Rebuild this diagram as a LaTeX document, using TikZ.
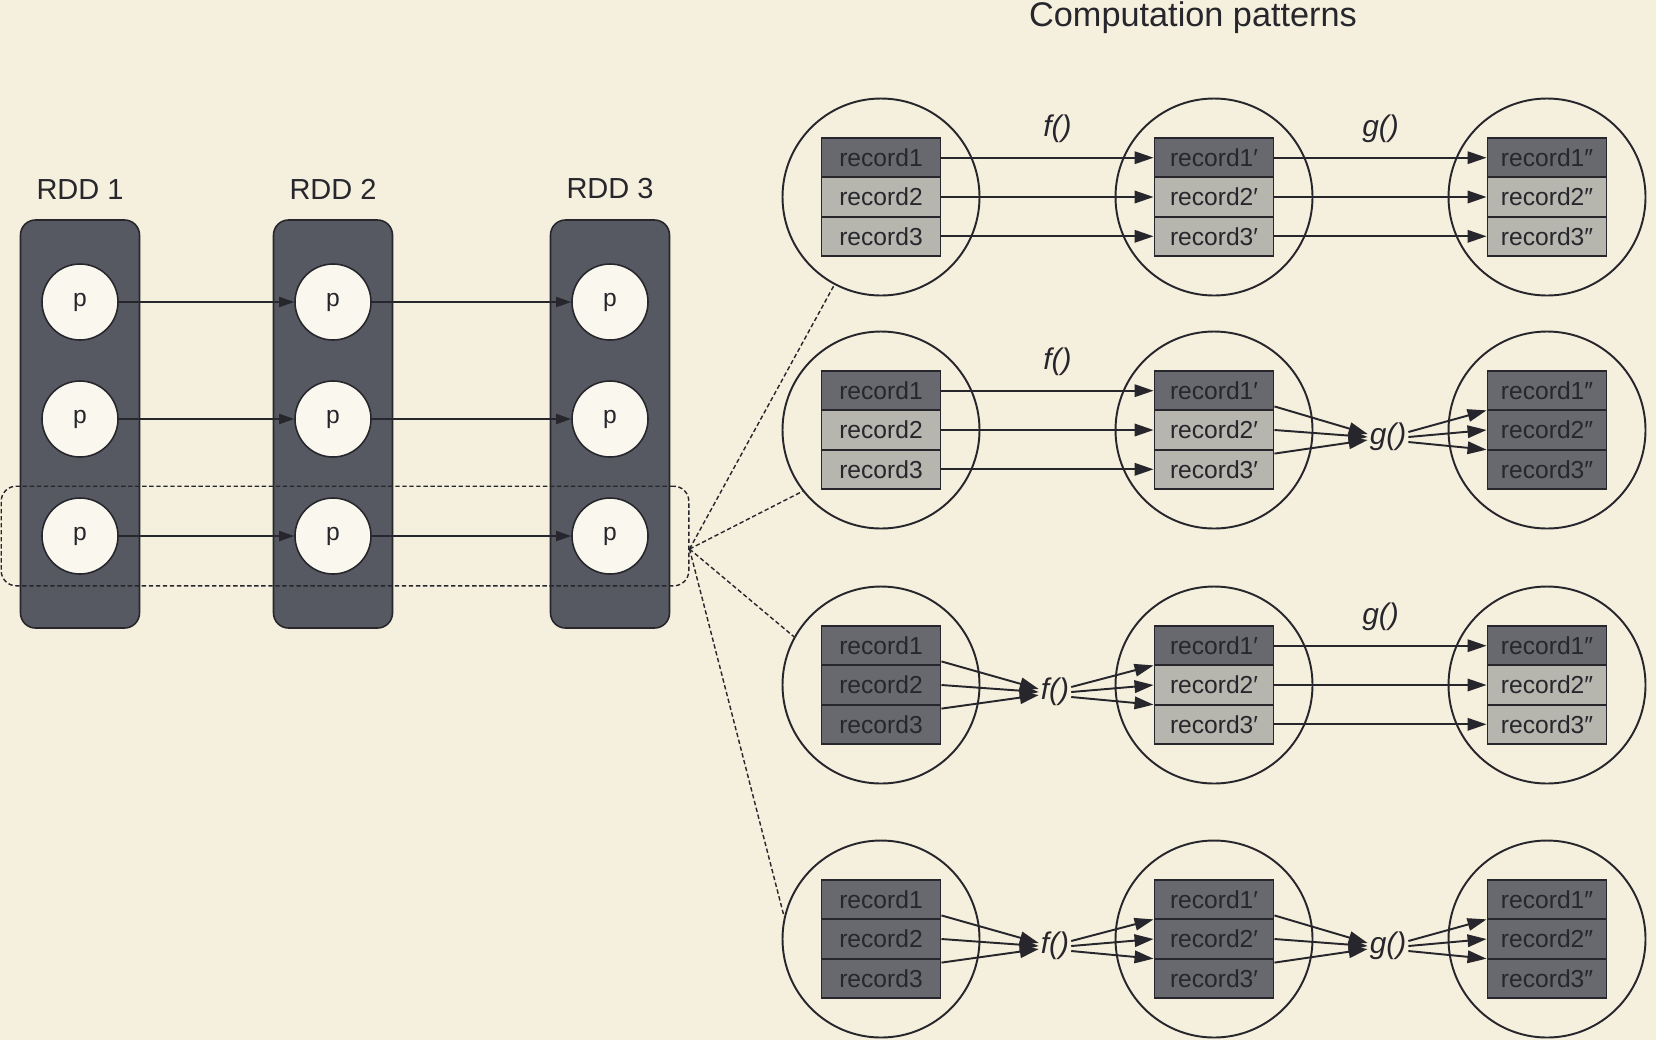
\documentclass[tikz,border=0pt]{standalone}
\usepackage{fontspec}
\setmainfont{Liberation Sans}
\usetikzlibrary{positioning,calc,fit,arrows.meta}
\definecolor{paper}{RGB}{245,239,221}
\definecolor{slate}{RGB}{86,89,97}
\definecolor{recdark}{RGB}{104,105,110}
\definecolor{reclight}{RGB}{182,182,174}
\definecolor{ink}{RGB}{38,38,44}
\begin{document}
\begin{tikzpicture}[node distance=2cm, color=ink,
    head/.style={font=\fontsize{19.5}{22}\selectfont},
    rdd/.style={rectangle, draw=ink, line width=0.9pt, fill=slate, rounded corners=0.3cm, minimum width=2.38cm, minimum height=8.16cm},
    rddlabel/.style={font=\fontsize{16.5}{19}\selectfont},
    part/.style={circle, draw=ink, line width=0.9pt, fill=paper!50!white, minimum size=1.52cm, font=\fontsize{14}{16}\selectfont},
    stage/.style={circle, draw=ink, line width=1.1pt, minimum size=3.94cm},
    dark/.style={rectangle, draw=ink, line width=1.1pt, fill=recdark, minimum width=2.38cm, minimum height=0.786cm, inner sep=0pt, font=\fontsize{14}{16}\selectfont},
    light/.style={dark, fill=reclight},
    fn/.style={font=\fontsize{17}{19}\selectfont\itshape, inner sep=1pt},
    line/.style={draw, line width=1.1pt, -{Triangle[length=0.38cm, width=0.25cm]}},
    pline/.style={draw, line width=1pt, -{Triangle[length=0.3cm, width=0.2cm]}},
    lasso/.style={draw, dash pattern=on 2.5pt off 1.5pt, line width=0.8pt}]

  \fill[paper] (0,0) rectangle (33.12,-20.8);
  \useasboundingbox (0,0) rectangle (33.12,-20.8);

  \node[head] (head) at (23.86,-0.36) {Computation patterns};

  % RDD columns
  \node[rdd] (rdd1) at (1.6,-8.48) {};
  \node[rdd, right of=rdd1, node distance=5.06cm] (rdd2) {};
  \node[rdd, right of=rdd2, node distance=5.54cm] (rdd3) {};
  \node[rddlabel, above=0.28cm of rdd1] (lab1) {RDD 1};
  \node[rddlabel, above=0.28cm of rdd2] (lab2) {RDD 2};
  \node[rddlabel, above=0.28cm of rdd3] (lab3) {RDD 3};

  % partitions
  \node[part] (p12) at (1.6,-8.38) {p};
  \node[part, above of=p12, node distance=2.34cm] (p11) {p};
  \node[part, below of=p12, node distance=2.34cm] (p13) {p};
  \node[part, right of=p12, node distance=5.06cm] (p22) {p};
  \node[part, above of=p22, node distance=2.34cm] (p21) {p};
  \node[part, below of=p22, node distance=2.34cm] (p23) {p};
  \node[part, right of=p22, node distance=5.54cm] (p32) {p};
  \node[part, above of=p32, node distance=2.34cm] (p31) {p};
  \node[part, below of=p32, node distance=2.34cm] (p33) {p};

  \path [pline] (p11) -- (p21);
  \path [pline] (p12) -- (p22);
  \path [pline] (p13) -- (p23);
  \path [pline] (p21) -- (p31);
  \path [pline] (p22) -- (p32);
  \path [pline] (p23) -- (p33);

  \node[lasso, rounded corners=0.3cm, fit=(p13)(p33), inner xsep=0.8cm, inner ysep=0.22cm] (sel) {};

  % computation patterns
  \node[stage] (c11) at (17.62,-3.94) {};
  \node[stage, right of=c11, node distance=6.66cm] (c12) {};
  \node[stage, right of=c12, node distance=6.66cm] (c13) {};
  \node[stage, below of=c11, node distance=4.66cm] (c21) {};
  \node[stage, right of=c21, node distance=6.66cm] (c22) {};
  \node[stage, right of=c22, node distance=6.66cm] (c23) {};
  \node[stage, below of=c21, node distance=5.1cm] (c31) {};
  \node[stage, right of=c31, node distance=6.66cm] (c32) {};
  \node[stage, right of=c32, node distance=6.66cm] (c33) {};
  \node[stage, below of=c31, node distance=5.08cm] (c41) {};
  \node[stage, right of=c41, node distance=6.66cm] (c42) {};
  \node[stage, right of=c42, node distance=6.66cm] (c43) {};

  \draw[lasso] ([yshift=-0.26cm]sel.east) -- (c11.242);
  \draw[lasso] ([yshift=-0.26cm]sel.east) -- (c21.218);
  \draw[lasso] ([yshift=-0.26cm]sel.east) -- (c31.151);
  \draw[lasso] ([yshift=-0.26cm]sel.east) -- (c41.167);

  % row 1
  \node[light] (r112) at (c11) {record2};
  \node[dark, above of=r112, node distance=0.786cm] (r111) {record1};
  \node[light, below of=r112, node distance=0.786cm] (r113) {record3};
  \node[light] (r122) at (c12) {record2′};
  \node[dark, above of=r122, node distance=0.786cm] (r121) {record1′};
  \node[light, below of=r122, node distance=0.786cm] (r123) {record3′};
  \node[light] (r132) at (c13) {record2″};
  \node[dark, above of=r132, node distance=0.786cm] (r131) {record1″};
  \node[light, below of=r132, node distance=0.786cm] (r133) {record3″};

  \path [line] (r111) -- node[fn, above=0.25cm, xshift=0.2cm] {f()} (r121);
  \path [line] (r112) -- (r122);
  \path [line] (r113) -- (r123);
  \path [line] (r121) -- node[fn, above=0.25cm] {g()} (r131);
  \path [line] (r122) -- (r132);
  \path [line] (r123) -- (r133);

  % row 2
  \node[light] (r212) at (c21) {record2};
  \node[dark, above of=r212, node distance=0.786cm] (r211) {record1};
  \node[light, below of=r212, node distance=0.786cm] (r213) {record3};
  \node[light] (r222) at (c22) {record2′};
  \node[dark, above of=r222, node distance=0.786cm] (r221) {record1′};
  \node[light, below of=r222, node distance=0.786cm] (r223) {record3′};
  \node[dark] (r232) at (c23) {record2″};
  \node[dark, above of=r232, node distance=0.786cm] (r231) {record1″};
  \node[dark, below of=r232, node distance=0.786cm] (r233) {record3″};
  \node[fn] (g2) at ($(c22)!0.5!(c23)+(0.15,-0.14)$) {g()};

  \path [line] (r211) -- node[fn, above=0.25cm, xshift=0.2cm] {f()} (r221);
  \path [line] (r212) -- (r222);
  \path [line] (r213) -- (r223);
  \path [line] ($(r221.east)!0.4!(r222.east)$) -- ([yshift=0.06cm]g2.west);
  \path [line] (r222.east) -- (g2.west);
  \path [line] ($(r223.east)!0.4!(r222.east)$) -- ([yshift=-0.06cm]g2.west);
  \path [line] ([yshift=0.1cm]g2.east) -- ($(r231.west)!0.5!(r232.west)$);
  \path [line] (g2.east) -- (r232.west);
  \path [line] ([yshift=-0.1cm]g2.east) -- ($(r233.west)!0.5!(r232.west)$);

  % row 3
  \node[dark] (r312) at (c31) {record2};
  \node[dark, above of=r312, node distance=0.786cm] (r311) {record1};
  \node[dark, below of=r312, node distance=0.786cm] (r313) {record3};
  \node[light] (r322) at (c32) {record2′};
  \node[dark, above of=r322, node distance=0.786cm] (r321) {record1′};
  \node[light, below of=r322, node distance=0.786cm] (r323) {record3′};
  \node[light] (r332) at (c33) {record2″};
  \node[dark, above of=r332, node distance=0.786cm] (r331) {record1″};
  \node[light, below of=r332, node distance=0.786cm] (r333) {record3″};
  \node[fn] (f3) at ($(c31)!0.5!(c32)+(0.15,-0.14)$) {f()};

  \path [line] ($(r311.east)!0.4!(r312.east)$) -- ([yshift=0.06cm]f3.west);
  \path [line] (r312.east) -- (f3.west);
  \path [line] ($(r313.east)!0.4!(r312.east)$) -- ([yshift=-0.06cm]f3.west);
  \path [line] ([yshift=0.1cm]f3.east) -- ($(r321.west)!0.5!(r322.west)$);
  \path [line] (f3.east) -- (r322.west);
  \path [line] ([yshift=-0.1cm]f3.east) -- ($(r323.west)!0.5!(r322.west)$);
  \path [line] (r321) -- node[fn, above=0.25cm] {g()} (r331);
  \path [line] (r322) -- (r332);
  \path [line] (r323) -- (r333);

  % row 4
  \node[dark] (r412) at (c41) {record2};
  \node[dark, above of=r412, node distance=0.786cm] (r411) {record1};
  \node[dark, below of=r412, node distance=0.786cm] (r413) {record3};
  \node[dark] (r422) at (c42) {record2′};
  \node[dark, above of=r422, node distance=0.786cm] (r421) {record1′};
  \node[dark, below of=r422, node distance=0.786cm] (r423) {record3′};
  \node[dark] (r432) at (c43) {record2″};
  \node[dark, above of=r432, node distance=0.786cm] (r431) {record1″};
  \node[dark, below of=r432, node distance=0.786cm] (r433) {record3″};
  \node[fn] (f4) at ($(c41)!0.5!(c42)+(0.15,-0.14)$) {f()};
  \node[fn] (g4) at ($(c42)!0.5!(c43)+(0.15,-0.14)$) {g()};

  \path [line] ($(r411.east)!0.4!(r412.east)$) -- ([yshift=0.06cm]f4.west);
  \path [line] (r412.east) -- (f4.west);
  \path [line] ($(r413.east)!0.4!(r412.east)$) -- ([yshift=-0.06cm]f4.west);
  \path [line] ([yshift=0.1cm]f4.east) -- ($(r421.west)!0.5!(r422.west)$);
  \path [line] (f4.east) -- (r422.west);
  \path [line] ([yshift=-0.1cm]f4.east) -- ($(r423.west)!0.5!(r422.west)$);
  \path [line] ($(r421.east)!0.4!(r422.east)$) -- ([yshift=0.06cm]g4.west);
  \path [line] (r422.east) -- (g4.west);
  \path [line] ($(r423.east)!0.4!(r422.east)$) -- ([yshift=-0.06cm]g4.west);
  \path [line] ([yshift=0.1cm]g4.east) -- ($(r431.west)!0.5!(r432.west)$);
  \path [line] (g4.east) -- (r432.west);
  \path [line] ([yshift=-0.1cm]g4.east) -- ($(r433.west)!0.5!(r432.west)$);
\end{tikzpicture}
\end{document}
